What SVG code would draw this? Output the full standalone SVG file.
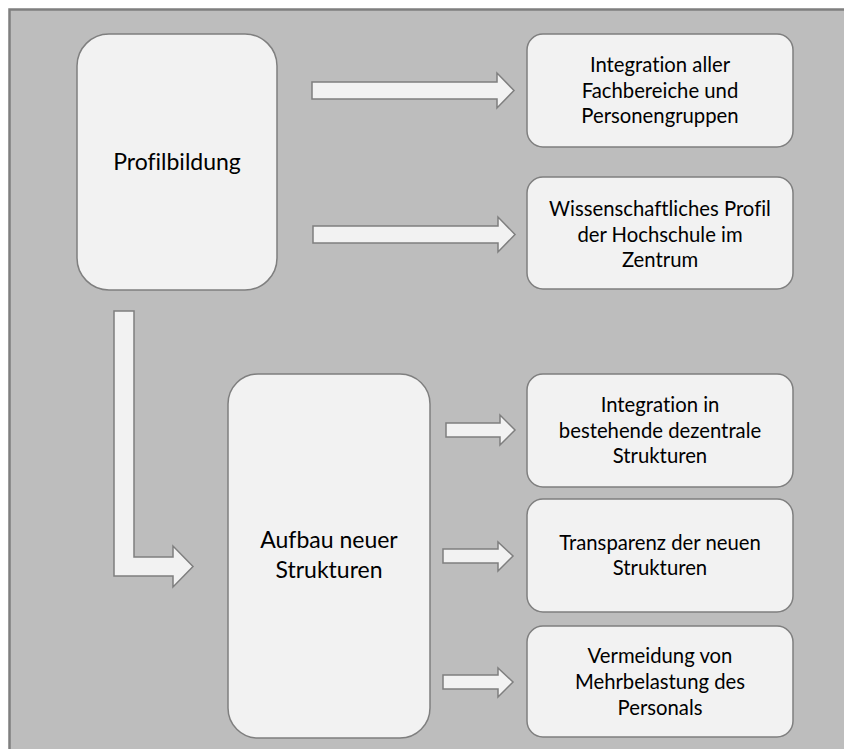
<svg xmlns="http://www.w3.org/2000/svg" width="844" height="749" viewBox="0 0 844 749">
<style>
.box{fill:#f2f2f2;stroke:#7f7f7f;stroke-width:1.5}
.arr{fill:#f2f2f2;stroke:#7f7f7f;stroke-width:1.5;stroke-linejoin:miter}
.t{font-family:Lato,"Open Sans","Liberation Sans",sans-serif;fill:#000;text-anchor:middle;font-variant-ligatures:none}
.s{font-size:20.3px}
.b{font-size:23px}
</style>
<rect x="0" y="0" width="844" height="749" fill="#ffffff"/>
<rect x="9.5" y="9.5" width="850" height="760" fill="#bdbdbd" stroke="#7f7f7f" stroke-width="2.5"/>
<g id="connectors">
<polygon class="arr" points="312,82 497,82 497,73 514,90.5 497,108 497,99 312,99"/>
<polygon class="arr" points="313,226 498,226 498,217 515,234.5 498,252 498,243 313,243"/>
<polygon class="arr" points="114,311 134,311 134,557 173,557 173,546 193,566.5 173,587 173,576 114,576"/>
<polygon class="arr" points="446,423 500,423 500,415 515,430 500,445 500,437 446,437"/>
<polygon class="arr" points="443,549 498,549 498,542 513,556 498,571 498,563 443,563"/>
<polygon class="arr" points="443,675 498,675 498,668 513,682 498,697 498,689 443,689"/>
</g>
<g id="profilbildung">
<rect class="box" x="77" y="34" width="200" height="256" rx="32"/>
<text class="t b" x="177" y="170">Profilbildung</text>
</g>
<g id="aufbau">
<rect class="box" x="228" y="374" width="202" height="364" rx="30"/>
<text class="t b" x="329" y="548">Aufbau neuer</text>
<text class="t b" x="329" y="578">Strukturen</text>
</g>
<g id="integration-aller">
<rect class="box" x="527" y="34" width="266" height="113" rx="16"/>
<text class="t s" x="660" y="72">Integration aller</text>
<text class="t s" x="660" y="98">Fachbereiche und</text>
<text class="t s" x="660" y="123">Personengruppen</text>
</g>
<g id="wissenschaftliches-profil">
<rect class="box" x="527" y="177" width="266" height="112" rx="16"/>
<text class="t s" x="660" y="216">Wissenschaftliches Profil</text>
<text class="t s" x="660" y="242">der Hochschule im</text>
<text class="t s" x="660" y="267">Zentrum</text>
</g>
<g id="integration-dezentral">
<rect class="box" x="527" y="374" width="266" height="113" rx="16"/>
<text class="t s" x="660" y="412">Integration in</text>
<text class="t s" x="660" y="438">bestehende dezentrale</text>
<text class="t s" x="660" y="463">Strukturen</text>
</g>
<g id="transparenz">
<rect class="box" x="527" y="499" width="266" height="113" rx="16"/>
<text class="t s" x="660" y="550">Transparenz der neuen</text>
<text class="t s" x="660" y="575">Strukturen</text>
</g>
<g id="vermeidung">
<rect class="box" x="527" y="626" width="266" height="111" rx="16"/>
<text class="t s" x="660" y="663">Vermeidung von</text>
<text class="t s" x="660" y="689">Mehrbelastung des</text>
<text class="t s" x="660" y="715">Personals</text>
</g>
</svg>
